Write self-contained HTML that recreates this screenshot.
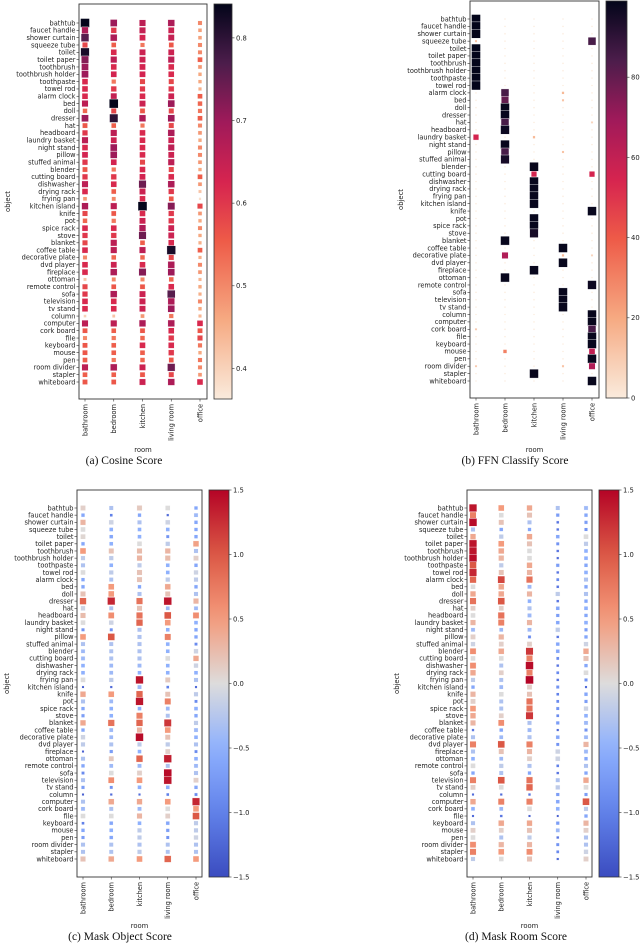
<!DOCTYPE html>
<html><head><meta charset="utf-8"><style>
body{margin:0;background:#fff;}
svg{display:block;font-family:"DejaVu Sans","Liberation Sans",sans-serif;}
</style></head><body>
<svg id="fig" width="640" height="943" viewBox="0 0 640 943" xmlns="http://www.w3.org/2000/svg"></svg>
<script>
const objects=["bathtub","faucet handle","shower curtain","squeeze tube","toilet","toilet paper","toothbrush","toothbrush holder","toothpaste","towel rod","alarm clock","bed","doll","dresser","hat","headboard","laundry basket","night stand","pillow","stuffed animal","blender","cutting board","dishwasher","drying rack","frying pan","kitchen island","knife","pot","spice rack","stove","blanket","coffee table","decorative plate","dvd player","fireplace","ottoman","remote control","sofa","television","tv stand","column","computer","cork board","file","keyboard","mouse","pen","room divider","stapler","whiteboard"];
const rooms=["bathroom","bedroom","kitchen","living room","office"];
const cosineScores=[
[.84,.70,.66,.68,.50],[.68,.60,.65,.64,.47],[.76,.68,.63,.65,.47],[.58,.55,.52,.56,.50],[.82,.62,.64,.64,.50],
[.72,.66,.64,.66,.55],[.70,.62,.63,.62,.48],[.70,.63,.63,.62,.46],[.62,.52,.58,.58,.46],[.62,.60,.60,.60,.45],
[.62,.65,.62,.64,.55],[.66,.84,.64,.70,.54],[.54,.58,.56,.58,.52],[.70,.80,.68,.70,.55],[.56,.55,.52,.58,.50],
[.60,.66,.62,.68,.48],[.66,.64,.62,.64,.46],[.62,.70,.62,.66,.50],[.63,.70,.62,.64,.50],[.60,.63,.58,.66,.48],
[.56,.52,.62,.58,.46],[.60,.60,.63,.62,.55],[.66,.62,.74,.68,.48],[.62,.55,.64,.60,.42],[.48,.50,.62,.56,.38],
[.68,.66,.84,.72,.58],[.58,.56,.62,.60,.48],[.54,.52,.64,.60,.46],[.62,.62,.68,.64,.50],[.60,.60,.74,.64,.46],
[.58,.66,.55,.62,.45],[.62,.66,.66,.82,.55],[.50,.54,.54,.58,.45],[.62,.64,.62,.68,.50],[.62,.68,.72,.70,.48],
[.42,.50,.50,.54,.44],[.58,.56,.56,.62,.46],[.60,.68,.64,.76,.45],[.62,.62,.64,.68,.50],[.62,.62,.64,.70,.46],
[.40,.42,.48,.52,.44],[.66,.66,.68,.68,.62],[.56,.55,.56,.62,.56],[.50,.52,.54,.60,.58],[.56,.55,.62,.62,.52],
[.56,.55,.55,.60,.46],[.55,.52,.54,.56,.52],[.66,.68,.64,.74,.50],[.55,.55,.56,.58,.48],[.56,.56,.64,.68,.62]];
const ffnScores=[
[99,1,1,1,1],[99,1,1,1,1],[99,1,1,1,1],[12,1,1,1,85],[99,1,1,1,1],
[99,1,1,1,1],[99,1,1,1,1],[99,1,1,1,1],[99,1,1,1,1],[99,1,1,1,1],
[1,85,1,15,1],[1,80,1,12,1],[1,98,1,1,1],[1,98,1,1,1],[1,85,1,1,8],
[1,97,1,1,1],[55,1,15,1,1],[1,98,1,1,1],[1,85,1,12,1],[1,95,1,1,1],
[1,1,98,1,1],[1,1,55,1,55],[1,1,98,1,1],[1,1,98,1,1],[1,1,98,1,1],
[1,1,98,1,1],[1,1,1,1,98],[1,1,98,1,1],[1,1,98,1,1],[1,1,95,1,1],
[1,98,1,1,1],[1,1,1,98,1],[1,65,1,15,8],[1,1,1,98,1],[1,1,98,1,1],
[1,98,1,1,1],[1,1,1,1,97],[1,1,1,98,1],[1,1,1,98,1],[1,1,1,98,1],
[1,1,1,1,98],[1,1,1,1,98],[10,1,1,1,85],[1,1,1,1,98],[1,1,1,1,98],
[1,30,1,1,60],[1,1,1,1,98],[10,1,1,12,65],[1,1,98,1,1],[1,1,1,1,98]];
const maskObjectScores=[
[.1,-.3,.15,0,-.6],[-.6,-1,-.6,-1.2,-.4],[.3,-.1,-.3,-.1,-.6],[0,-.5,-.5,-.5,-.6],[.05,-.6,-.5,-.8,-.6],
[-.6,-.5,0,-.2,.45],[.5,.2,.25,.3,-.3],[-.2,-.2,.3,.25,.1],[-.3,-.5,-.2,-.5,-.6],[0,-.2,.2,-.5,-.1],
[-.6,-.3,.2,-.2,-.2],[-.6,.5,-.6,.4,-.6],[.2,.5,-.3,.2,-.3],[.9,1.3,.8,1.4,.3],[-.1,-.3,.2,-.4,-.4],
[.25,.6,.8,1,.6],[0,-.1,.9,.5,-.5],[-.8,-.8,-.3,-.5,-.6],[.5,1,-.3,.7,-.6],[-.3,-.3,-.3,-.5,-.9],
[-.4,-.3,-.3,-.5,-.1],[-.4,-.3,-.3,0,.4],[-.5,-.4,-.4,-.5,-.1],[-.5,-.4,-.5,-.5,-.5],[0,-.2,1.4,.15,-.3],
[-1.3,-1.2,-.4,-1,-1.2],[.4,.5,.9,.2,-.2],[-.3,-.4,1.4,.7,-.9],[-.6,-.5,-.5,-.4,-.5],[-.7,-.5,.7,-.3,-.6],
[.4,.8,.9,1.2,-.2],[-.6,-.4,.3,.5,-.4],[-.1,-.4,1.45,.2,-.5],[-.2,-.3,-.2,-.2,-.3],[-1.3,-.7,-.5,.1,-.9],
[-.3,.15,.9,1.35,-.5],[-.6,-.4,-.4,-.3,-.4],[-.9,0,.1,1.45,-.3],[-.3,.6,.5,1.4,.1],[-.7,-.8,-.5,-.5,-.6],
[-1.3,-1.2,-1.2,-1,-.9],[-.3,.4,.4,.5,1.3],[-.4,-.3,-.4,0,.5],[0,0,.3,.1,1],[-1,-.6,-.5,-.6,-.2],
[-.6,-.5,-.2,-.7,-.2],[-.7,-.6,-.2,-.8,-.1],[-.3,-.3,-.3,-.3,-.3],[-.3,-.3,-.2,-.3,-.3],[.2,.4,.5,.9,.5]];
const maskRoomScores=[
[1.4,.5,.4,-.3,-.4],[.7,0,.2,-.7,-.6],[1.45,.2,-.3,-1.1,-.7],[-.3,-.6,-.6,-1.1,-.8],[.4,-.2,.4,-.6,0],
[1.4,.5,.2,-.8,-.2],[1.4,.4,0,-1.1,-.5],[1.45,.3,0,-1.2,-.5],[1,-.2,.4,-.7,-.6],[1.3,.2,.3,-1.1,-.5],
[.9,1.1,.8,-.9,-.3],[0,.4,-.4,-1.1,-.6],[.4,.4,.3,-.2,-.3],[.8,1,-.5,-1.1,-.6],[.1,.1,-.3,-.6,-.5],
[0,.8,-.4,-.7,-.6],[.3,.7,.3,-.6,-.5],[-.4,-.4,-.4,-.2,-.7],[.1,.3,-.9,-1.1,-.6],[-.1,.1,.1,-.6,-.1],
[.6,.4,1.2,-.6,.4],[0,0,.7,-.9,.2],[.6,-.3,1.45,-1.1,-.6],[.4,.1,.7,-.9,0],[-.2,-.3,1.5,-1.1,-.8],
[-.6,-.4,.1,-.8,-1.2],[.3,0,.2,-1,-.6],[.1,-.3,.8,-.9,-.7],[.5,-.3,.8,-.8,-.1],[.4,.1,1.2,-.9,-.5],
[.3,.6,-.3,-.7,-.4],[-1.1,-.6,-.4,-1.2,-.8],[-.3,-.4,-.3,-.6,-.4],[.7,1,.7,-.8,.3],[-.3,.2,.3,-.1,-.4],
[-.5,-.4,.1,-.1,-.6],[0,-.2,-.3,-1,-.3],[-.6,-.3,-.6,-1.1,-.6],[.7,1,.8,-.3,.4],[.1,0,.9,-.2,0],
[-1.2,-1.2,-1.1,-.7,-.7],[.4,.7,.7,-.6,1],[-.5,-.4,0,-.5,-.2],[-1.2,-1.1,-1.3,-1.3,-.6],[-.3,.4,.4,-.7,.3],
[.1,.1,.2,-.4,.1],[0,-.3,-.2,-1.1,-.3],[.6,.3,.3,-.8,-.3],[.7,.5,.6,-.9,-.1],[-.2,0,.2,-1.2,.1]];
const cosineTicks=[0.4,0.5,0.6,0.7,0.8];
const ffnTicks=[0,20,40,60,80];
const maskTicks=[-1.5,-1,-0.5,0,0.5,1,1.5];

const NS="http://www.w3.org/2000/svg";
const svg=document.getElementById('fig');
function el(tag,attrs,parent){const e=document.createElementNS(NS,tag);for(const k in attrs)e.setAttribute(k,attrs[k]);(parent||svg).appendChild(e);return e;}
function lerpStops(stops,t){t=Math.max(0,Math.min(1,t));for(let i=1;i<stops.length;i++){if(t<=stops[i][0]){const a=stops[i-1],b=stops[i];const f=(t-a[0])/(b[0]-a[0]);const c=[0,1,2].map(j=>Math.round(a[1][j]+(b[1][j]-a[1][j])*f));return `rgb(${c[0]},${c[1]},${c[2]})`;}}const l=stops[stops.length-1][1];return `rgb(${l[0]},${l[1]},${l[2]})`;}
const rocketR=[[0,[250,235,221]],[0.2,[246,170,130]],[0.4,[238,91,72]],[0.55,[214,36,79]],[0.7,[160,26,90]],[0.85,[76,29,75]],[1,[3,5,26]]];
const coolwarm=[[0,[59,76,192]],[0.17,[98,130,234]],[0.33,[141,176,254]],[0.5,[221,220,220]],[0.67,[244,154,123]],[0.83,[220,90,70]],[1,[180,4,38]]];
function fmt(v,kind){if(kind==='int')return String(v);if(kind==='mask'){return (v<0?'\u2212':'')+Math.abs(v).toFixed(1);}return v.toFixed(1);}

function panel(cfg){
  const g=el('g',{});
  
  
  const colX=i=>cfg.c0+(cfg.c1-cfg.c0)*i/(rooms.length-1);
  const rowY=j=>cfg.r0+(cfg.r1-cfg.r0)*j/(objects.length-1);
  const norm=v=>(v-cfg.vmin)/(cfg.vmax-cfg.vmin);
  const box=el('rect',{x:cfg.bx0,y:cfg.by0,width:cfg.bx1-cfg.bx0,height:cfg.by1-cfg.by0,fill:'#fff',stroke:'#333','stroke-width':0.9},g);
  
  
  objects.forEach((o,j)=>{
    const y=rowY(j);
    el('line',{x1:cfg.bx0-2.5,x2:cfg.bx0,y1:y,y2:y,stroke:'#333','stroke-width':0.6},g);
    const t=el('text',{x:cfg.bx0-3.5,y:y+2.3,'text-anchor':'end','font-size':'6.6px',fill:'#222'},g);
    t.textContent=o;
    
    
  });
  rooms.forEach((r,i)=>{
    const x=colX(i);
    el('line',{x1:x,x2:x,y1:cfg.by1,y2:cfg.by1+2.5,stroke:'#333','stroke-width':0.6},g);
    const t=el('text',{x:0,y:0,transform:`translate(${x+2.3},${cfg.by1+5}) rotate(-90)`,'text-anchor':'end','font-size':'6.6px',fill:'#222'},g);
    t.textContent=r;
    
    
  });
  cfg.data.forEach((row,j)=>row.forEach((v,i)=>{
    const n=norm(v);
    const s=cfg.smin+(cfg.smax-cfg.smin)*Math.max(0,Math.min(1,n));
    const r=el('rect',{x:colX(i)-s/2,y:rowY(j)-s/2,width:s,height:s,fill:lerpStops(cfg.cmap,n),stroke:'#fff','stroke-width':0.4},g);
    
    
  }));
  // colorbar
  const id='grad-'+cfg.name;
  const defs=el('defs',{},g);
  const lg=el('linearGradient',{id:id,x1:0,y1:1,x2:0,y2:0},defs);
  for(let k=0;k<=20;k++){el('stop',{offset:k/20,'stop-color':lerpStops(cfg.cmap,k/20)},lg);}
  const cb=el('rect',{x:cfg.cbx0,y:cfg.by0,width:cfg.cbx1-cfg.cbx0,height:cfg.by1-cfg.by0,fill:`url(#${id})`,stroke:'#333','stroke-width':0.8},g);
  
  
  cfg.ticks.forEach(tv=>{
    const y=cfg.by1-(cfg.by1-cfg.by0)*norm(tv);
    el('line',{x1:cfg.cbx1,x2:cfg.cbx1+2.5,y1:y,y2:y,stroke:'#333','stroke-width':0.6},g);
    const t=el('text',{x:cfg.cbx1+4,y:y+2.4,'font-size':'6.8px',fill:'#222'},g);
    t.textContent=fmt(tv,cfg.fmt);
    
    
  });
  const yl=el('text',{x:0,y:0,transform:`translate(${cfg.objX},${(cfg.by0+cfg.by1)/2}) rotate(-90)`,'text-anchor':'middle','font-size':'6.8px',fill:'#222'},g);
  yl.textContent='object';
  
  
  const xl=el('text',{x:(cfg.bx0+cfg.bx1)/2,y:cfg.roomY,'text-anchor':'middle','font-size':'6.8px',fill:'#222'},g);
  xl.textContent='room';
  
  
  const cap=el('text',{x:cfg.capX,y:cfg.capY,'text-anchor':'middle','font-size':'11.5px','font-family':'"Liberation Serif",serif',fill:'#111'},g);
  cap.textContent=cfg.caption;
  
  
}

panel({name:'cosine-panel',data:cosineScores,bx0:79,bx1:207,by0:4,by1:399,c0:85,c1:200,r0:23,r1:382,cbx0:214,cbx1:232,vmin:0.363,vmax:0.841,cmap:rocketR,smin:2.5,smax:9,ticks:cosineTicks,fmt:'f1',objX:10,roomY:452,capX:124,capY:464,caption:'(a) Cosine Score'});
panel({name:'ffn-panel',data:ffnScores,bx0:470,bx1:599,by0:1,by1:398,c0:476,c1:592,r0:19,r1:381,cbx0:606,cbx1:627,vmin:0,vmax:99,cmap:rocketR,smin:1.6,smax:9,ticks:ffnTicks,fmt:'int',objX:403,roomY:452,capX:515,capY:464,caption:'(b) FFN Classify Score'});
panel({name:'mask-object-panel',data:maskObjectScores,bx0:77,bx1:202,by0:490,by1:877,c0:83,c1:196,r0:508,r1:859,cbx0:209,cbx1:229,vmin:-1.5,vmax:1.5,cmap:coolwarm,smin:2,smax:8,ticks:maskTicks,fmt:'mask',objX:9,roomY:928,capX:120,capY:940,caption:'(c) Mask Object Score'});
panel({name:'mask-room-panel',data:maskRoomScores,bx0:467,bx1:592,by0:490,by1:877,c0:473,c1:586,r0:508,r1:859,cbx0:599,cbx1:619,vmin:-1.5,vmax:1.5,cmap:coolwarm,smin:2,smax:8,ticks:maskTicks,fmt:'mask',objX:399,roomY:928,capX:516,capY:940,caption:'(d) Mask Room Score'});
</script>
</body></html>
